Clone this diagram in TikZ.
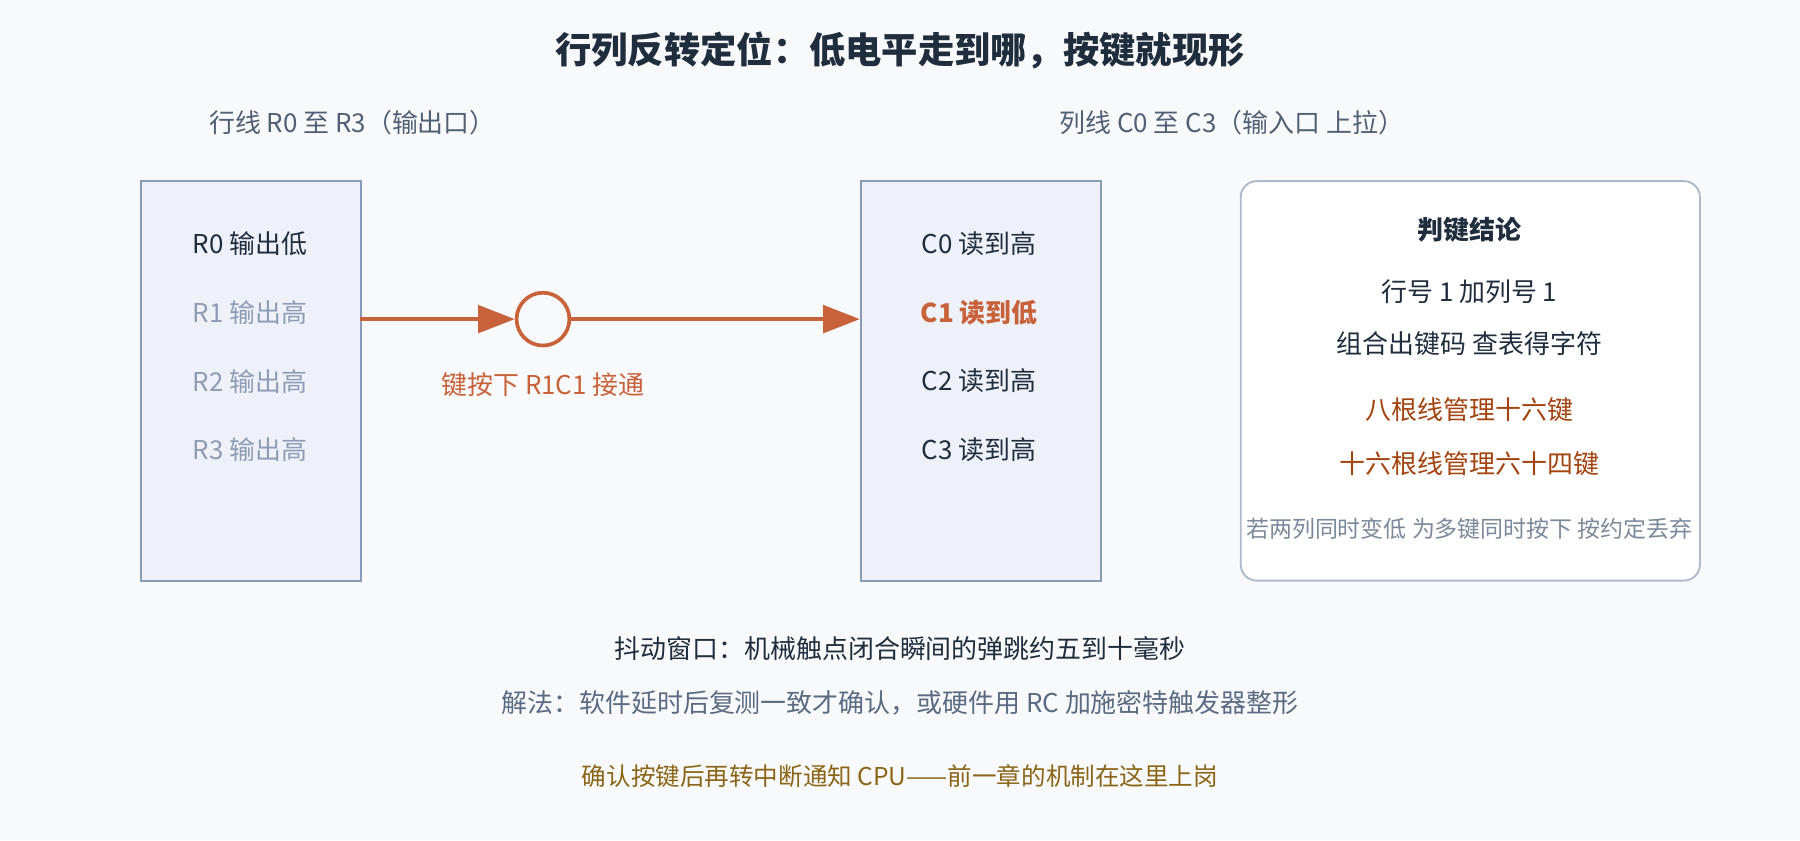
\documentclass[tikz,border=0pt]{standalone}
\usepackage{fontspec}
\setmainfont{Noto Sans CJK SC}
\begin{document}
\begin{tikzpicture}[x=0.5pt,y=-0.5pt,
  every node/.style={inner sep=0pt},
  box/.style={draw=colbd,fill=colbox,line width=0.8pt},
  t/.style={font=\fontsize{11.3}{13}\selectfont,text=coldark},
  dim/.style={font=\fontsize{11.3}{13}\selectfont,text=coldim},
  arr/.style={draw=color,line width=1.6pt,-{Triangle[length=16pt,width=12pt]}}]
\usetikzlibrary{arrows.meta}
\definecolor{colbg}{HTML}{F8F9FB}
\definecolor{colbox}{HTML}{EEF1F8}
\definecolor{colbd}{HTML}{8B9AB8}
\definecolor{coldark}{HTML}{1F2D3D}
\definecolor{coldim}{HTML}{8E9CB5}
\definecolor{color}{HTML}{C8623A}
\definecolor{colbrown}{HTML}{A3430F}
\definecolor{colgray}{HTML}{5B6B82}
\definecolor{colgold}{HTML}{8B6518}
\fill[colbg] (0,0) rectangle (1568,732);
\useasboundingbox (0,0) rectangle (1568,732);
\node[font=\fontsize{15.8}{18}\selectfont\bfseries,text=coldark] (title) at (784,44) {行列反转定位：低电平走到哪，按键就现形};
\node[t,text=colgray!90!black] (lr) at (307,107) {行线 R0 至 R3（输出口）};
\node[t,text=colgray!90!black] (lc) at (1073,107) {列线 C0 至 C3（输入口 上拉）};
\node[box,minimum width=96pt,minimum height=174pt,anchor=north west] (rb) at (122,157) {};
\node[box,minimum width=104.5pt,minimum height=174pt,anchor=north west] (cb) at (749,157) {};
\node[draw=colbd!70,fill=white,rounded corners=7pt,line width=0.8pt,minimum width=200pt,minimum height=174pt,anchor=north west] (jb) at (1080,157) {};
\node[t] (r0) at (218,212) {R0 输出低};
\node[dim] (r1) at (218,272) {R1 输出高};
\node[dim] (r2) at (218,332) {R2 输出高};
\node[dim] (r3) at (218,392) {R3 输出高};
\node[t] (c0) at (853,212) {C0 读到高};
\node[t,text=color,font=\fontsize{11.3}{13}\selectfont\bfseries] (c1) at (853,272) {C1 读到低};
\node[t] (c2) at (853,332) {C2 读到高};
\node[t] (c3) at (853,392) {C3 读到高};
\node[circle,draw=color,line width=1.6pt,fill=colbg,minimum size=23pt] (sw) at (473,278) {};
\coordinate (a1) at (314,278);
\coordinate (a2) at (749,278);
\draw[arr] (a1) -- (sw.west);
\draw[arr] (sw.east) -- (a2);
\node[t,text=color] (swl) at (473,335) {键按下 R1C1 接通};
\node[t,font=\fontsize{11.3}{13}\selectfont\bfseries] (j0) at (1280,200) {判键结论};
\node[t] (j1) at (1280,254) {行号 1 加列号 1};
\node[t] (j2) at (1280,299) {组合出键码 查表得字符};
\node[t,text=colbrown] (j3) at (1280,357) {八根线管理十六键};
\node[t,text=colbrown] (j4) at (1280,404) {十六根线管理六十四键};
\node[font=\fontsize{10}{12}\selectfont,text=colgray!80] (j5) at (1280,461) {若两列同时变低 为多键同时按下 按约定丢弃};
\node[t] (b1) at (784,565) {抖动窗口：机械触点闭合瞬间的弹跳约五到十毫秒};
\node[t,text=colgray] (b2) at (784,612) {解法：软件延时后复测一致才确认，或硬件用 RC 加施密特触发器整形};
\node[t,text=colgold,font=\fontsize{10.7}{12}\selectfont] (b3) at (784,676) {确认按键后再转中断通知 CPU——前一章的机制在这里上岗};
\end{tikzpicture}
\end{document}
